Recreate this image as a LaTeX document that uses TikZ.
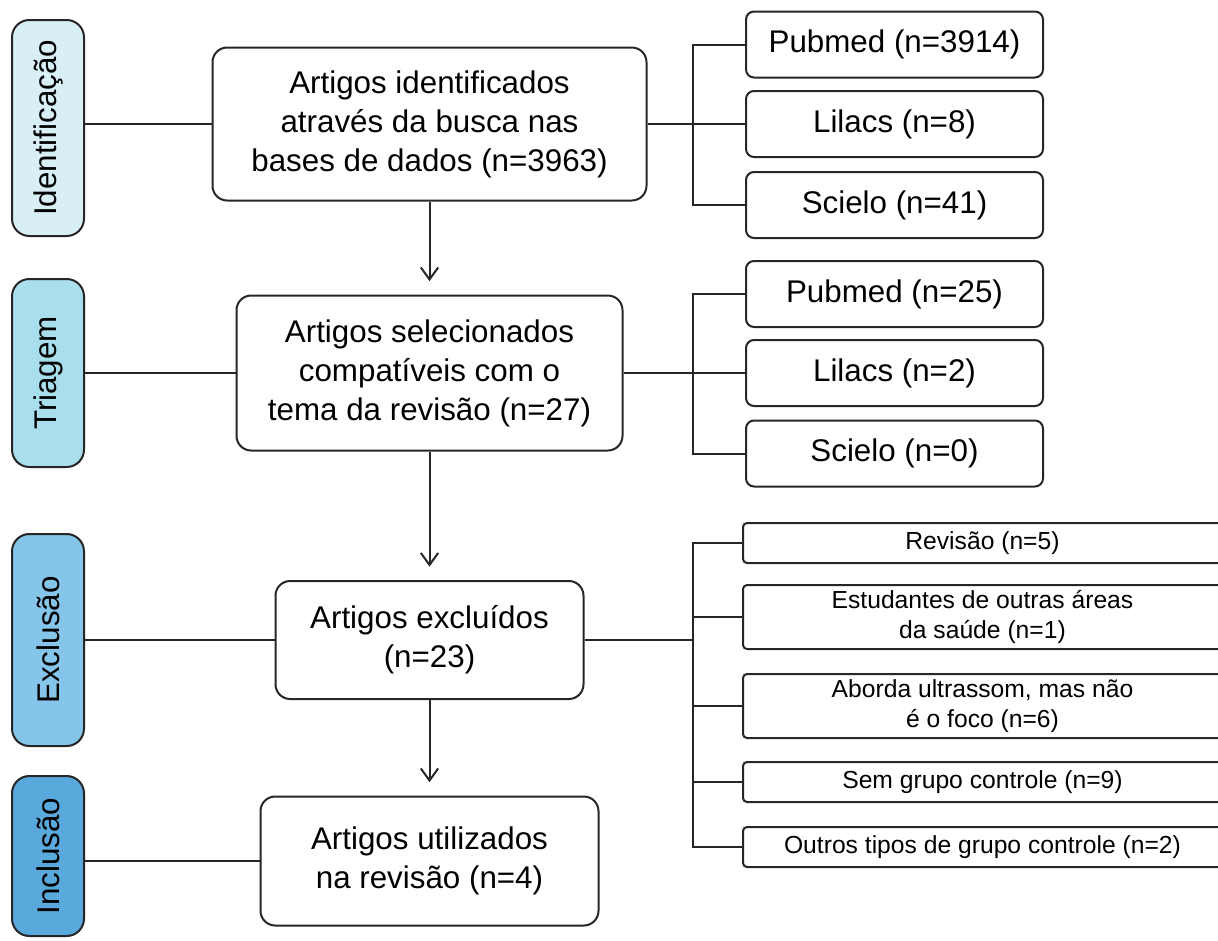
\documentclass[tikz,border=0pt]{standalone}
\usepackage{fontspec}
\setmainfont{Liberation Sans}
\usetikzlibrary{arrows.meta}
\definecolor{stA}{HTML}{D8EFF5}
\definecolor{stB}{HTML}{A9DFEC}
\definecolor{stC}{HTML}{86C5EA}
\definecolor{stD}{HTML}{5AA9DD}
\definecolor{ln}{HTML}{262626}
\begin{document}
\begin{tikzpicture}[x=0.75pt,y=-0.75pt, line width=1.5pt,
  conn/.style={draw=ln, line width=1.5pt},
  stage/.style={draw=ln, line width=1.5pt, rounded corners=13pt, inner sep=0pt,
    minimum width=72*0.75pt, font=\fontsize{23.5}{28}\selectfont},
  mainbox/.style={draw=ln, line width=1.5pt, rounded corners=11pt, inner sep=0pt, fill=white,
    align=center, font=\fontsize{23.5}{29.2}\selectfont},
  srcbox/.style={draw=ln, line width=1.5pt, rounded corners=6pt, inner sep=0pt,
    minimum width=297*0.75pt, minimum height=66*0.75pt, font=\fontsize{23.5}{28}\selectfont},
  exbox/.style={draw=ln, line width=1.5pt, rounded corners=3pt, inner sep=0pt,
    minimum width=479*0.75pt, align=center, font=\fontsize{18.5}{22.5}\selectfont},
  arr/.style={conn, -{Straight Barb[length=9pt,width=13pt,line width=1.5pt]}, shorten >=10pt}
]
\useasboundingbox (0,0) rectangle (1218,940);
\clip (0,0) rectangle (1218,940);

% stage labels
\node[stage, fill=stA, minimum height=216*0.75pt] (s1) at (48,128) {\rotatebox{90}{Identificação}};
\node[stage, fill=stB, minimum height=188*0.75pt] (s2) at (48,373) {\rotatebox{90}{Triagem}};
\node[stage, fill=stC, minimum height=212*0.75pt] (s3) at (48,640) {\rotatebox{90}{Exclusão}};
\node[stage, fill=stD, minimum height=160*0.75pt] (s4) at (48,856) {\rotatebox{90}{Inclusão}};

% main boxes
\node[mainbox, minimum width=434*0.75pt, minimum height=153*0.75pt] (m1) at (429.5,124)
  {Artigos identificados\\através da busca nas\\bases de dados (n=3963)};
\node[mainbox, minimum width=386*0.75pt, minimum height=155*0.75pt] (m2) at (429.5,373)
  {Artigos selecionados\\compatíveis com o\\tema da revisão (n=27)};
\node[mainbox, minimum width=308*0.75pt, minimum height=118*0.75pt] (m3) at (429.5,640)
  {Artigos excluídos\\(n=23)};
\node[mainbox, minimum width=338*0.75pt, minimum height=129*0.75pt] (m4) at (429.5,861)
  {Artigos utilizados\\na revisão (n=4)};

% source boxes
\node[srcbox] (r1a) at (894.5,44.5) {Pubmed (n=3914)};
\node[srcbox] (r1b) at (894.5,124) {Lilacs (n=8)};
\node[srcbox] (r1c) at (894.5,205) {Scielo (n=41)};
\node[srcbox] (r2a) at (894.5,294) {Pubmed (n=25)};
\node[srcbox] (r2b) at (894.5,373) {Lilacs (n=2)};
\node[srcbox] (r2c) at (894.5,453.5) {Scielo (n=0)};

% exclusion boxes
\node[exbox, minimum height=40*0.75pt] (e1) at (982.5,543) {Revisão (n=5)};
\node[exbox, minimum height=64*0.75pt] (e2) at (982.5,617) {Estudantes de outras áreas\\da saúde (n=1)};
\node[exbox, minimum height=64*0.75pt] (e3) at (982.5,706) {Aborda ultrassom, mas não\\é o foco (n=6)};
\node[exbox, minimum height=40*0.75pt] (e4) at (982.5,782) {Sem grupo controle (n=9)};
\node[exbox, minimum height=40*0.75pt] (e5) at (982.5,847) {Outros tipos de grupo controle (n=2)};

% stage connectors
\draw[conn] (s1.east |- m1.west) -- (m1.west);
\draw[conn] (s2.east |- m2.west) -- (m2.west);
\draw[conn] (s3.east |- m3.west) -- (m3.west);
\draw[conn] (s4.east |- m4.west) -- (m4.west);

% vertical arrows
\draw[arr] (m1.south) -- (m2.north);
\draw[arr] (m2.south) -- (m3.north);
\draw[arr] (m3.south) -- (m4.north);

% brackets group 1
\draw[conn] (m1.east) -- (r1b.west);
\draw[conn] (r1a.west) -- ++(-52,0) |- (r1c.west);
% brackets group 2
\draw[conn] (m2.east) -- (r2b.west);
\draw[conn] (r2a.west) -- ++(-52,0) |- (r2c.west);
% brackets exclusion
\coordinate (j3) at (694,640);
\draw[conn] (m3.east) -- (j3);
\draw[conn] (e1.west) -- ++(-49,0) |- (e5.west);
\draw[conn] (e2.west) -- ++(-49,0);
\draw[conn] (e3.west) -- ++(-49,0);
\draw[conn] (e4.west) -- ++(-49,0);
\end{tikzpicture}
\end{document}
